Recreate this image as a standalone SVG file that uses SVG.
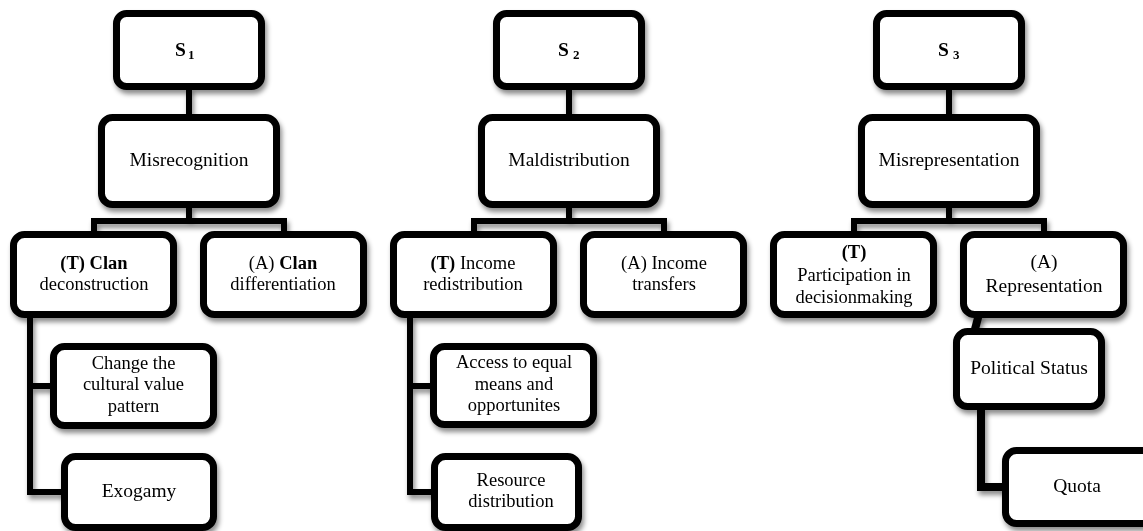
<svg xmlns="http://www.w3.org/2000/svg" width="1143" height="531" viewBox="0 0 1143 531">
  <defs>
    <filter id="shadow" x="-10%" y="-10%" width="130%" height="140%">
      <feDropShadow dx="2" dy="4" stdDeviation="2.5" flood-color="#000" flood-opacity="0.45"/>
    </filter>
    <style>
      .box { fill: #fff; stroke: #000; stroke-width: 7; }
      .ln { fill: none; stroke: #000; stroke-width: 6; stroke-linejoin: miter; stroke-linecap: butt; }
      .lnw { fill: none; stroke: #000; stroke-width: 8; stroke-linejoin: miter; stroke-linecap: butt; }
      text { font-family: "Liberation Serif", "Times New Roman", serif; font-size: 19.5px; fill: #000; text-anchor: middle; }
      text.ml { font-size: 18.5px; }
      .b { font-weight: bold; }
      .sub { font-size: 13px; font-weight: bold; }
    </style>
  </defs>
  <rect width="1143" height="531" fill="#fff"/>

  <!-- connectors -->
  <g id="connectors" filter="url(#shadow)">
    <!-- S1 tree -->
    <line class="ln" x1="189" y1="88" x2="189" y2="116"/>
    <polyline class="ln" points="94,233 94,221 284,221 284,233"/>
    <line class="ln" x1="189" y1="206" x2="189" y2="221"/>
    <polyline class="ln" points="30,316 30,386 52,386"/>
    <polyline class="ln" points="30,380 30,492 63,492"/>
    <!-- S2 tree -->
    <line class="ln" x1="569" y1="88" x2="569" y2="116"/>
    <polyline class="ln" points="474,233 474,221 664,221 664,233"/>
    <line class="ln" x1="569" y1="206" x2="569" y2="221"/>
    <polyline class="ln" points="410,316 410,386 432,386"/>
    <polyline class="ln" points="410,380 410,492 433,492"/>
    <!-- S3 tree -->
    <line class="ln" x1="949" y1="88" x2="949" y2="116"/>
    <polyline class="ln" points="854,233 854,221 1044,221 1044,233"/>
    <line class="ln" x1="949" y1="206" x2="949" y2="221"/>
    <line class="lnw" x1="979" y1="314" x2="974" y2="333"/>
    <polyline class="lnw" points="981,408 981,487 1004,487"/>
  </g>

  <!-- S1 branch: recognition -->
  <g id="s1" filter="url(#shadow)">
    <rect class="box" x="116.5" y="13.5" width="145" height="73" rx="10"/>
    <text x="175" y="55.5" style="text-anchor:start"><tspan class="b">S</tspan><tspan class="sub" x="188" y="58.5">1</tspan></text>
  </g>
  <g id="misrecognition" filter="url(#shadow)">
    <rect class="box" x="101.5" y="117.5" width="175" height="87" rx="11"/>
    <text x="189" y="166">Misrecognition</text>
  </g>
  <g id="clan-deconstruction" filter="url(#shadow)">
    <rect class="box" x="13.5" y="234.5" width="160" height="80" rx="11"/>
    <text class="ml"><tspan x="94" y="268.75" class="b">(T) Clan</tspan><tspan x="94" y="290.25">deconstruction</tspan></text>
  </g>
  <g id="clan-differentiation" filter="url(#shadow)">
    <rect class="box" x="203.5" y="234.5" width="160" height="80" rx="11"/>
    <text class="ml"><tspan x="283" y="268.75">(A) <tspan class="b">Clan</tspan></tspan><tspan x="283" y="290.25">differentiation</tspan></text>
  </g>
  <g id="cultural-value" filter="url(#shadow)">
    <rect class="box" x="53.5" y="346.5" width="160" height="79" rx="11"/>
    <text class="ml"><tspan x="133.5" y="368.5">Change the</tspan><tspan x="133.5" y="390">cultural value</tspan><tspan x="133.5" y="411.5">pattern</tspan></text>
  </g>
  <g id="exogamy" filter="url(#shadow)">
    <rect class="box" x="64.5" y="456.5" width="149" height="71" rx="11"/>
    <text x="139" y="497">Exogamy</text>
  </g>

  <!-- S2 branch: distribution -->
  <g id="s2" filter="url(#shadow)">
    <rect class="box" x="496.5" y="13.5" width="145" height="73" rx="10"/>
    <text x="558" y="55.5" style="text-anchor:start"><tspan class="b">S</tspan><tspan class="sub" x="573" y="58.5">2</tspan></text>
  </g>
  <g id="maldistribution" filter="url(#shadow)">
    <rect class="box" x="481.5" y="117.5" width="175" height="87" rx="11"/>
    <text x="569" y="166">Maldistribution</text>
  </g>
  <g id="income-redistribution" filter="url(#shadow)">
    <rect class="box" x="393.5" y="234.5" width="160" height="80" rx="11"/>
    <text class="ml"><tspan x="473" y="268.75"><tspan class="b">(T)</tspan> Income</tspan><tspan x="473" y="290.25">redistribution</tspan></text>
  </g>
  <g id="income-transfers" filter="url(#shadow)">
    <rect class="box" x="583.5" y="234.5" width="160" height="80" rx="11"/>
    <text class="ml"><tspan x="664" y="268.75">(A) Income</tspan><tspan x="664" y="290.25">transfers</tspan></text>
  </g>
  <g id="equal-access" filter="url(#shadow)">
    <rect class="box" x="433.5" y="346.5" width="160" height="78" rx="11"/>
    <text class="ml"><tspan x="514" y="368">Access to equal</tspan><tspan x="514" y="389.5">means and</tspan><tspan x="514" y="411">opportunites</tspan></text>
  </g>
  <g id="resource-distribution" filter="url(#shadow)">
    <rect class="box" x="434.5" y="456.5" width="144" height="71" rx="11"/>
    <text class="ml"><tspan x="511" y="485.75">Resource</tspan><tspan x="511" y="507.25">distribution</tspan></text>
  </g>

  <!-- S3 branch: representation -->
  <g id="s3" filter="url(#shadow)">
    <rect class="box" x="876.5" y="13.5" width="145" height="73" rx="10"/>
    <text x="938" y="55.5" style="text-anchor:start"><tspan class="b">S</tspan><tspan class="sub" x="953" y="58.5">3</tspan></text>
  </g>
  <g id="misrepresentation" filter="url(#shadow)">
    <rect class="box" x="861.5" y="117.5" width="175" height="87" rx="11"/>
    <text x="949" y="166">Misrepresentation</text>
  </g>
  <g id="participation" filter="url(#shadow)">
    <rect class="box" x="773.5" y="234.5" width="160" height="80" rx="11"/>
    <text class="ml"><tspan x="854" y="258" class="b">(T)</tspan><tspan x="854" y="281">Participation in</tspan><tspan x="854" y="302.5">decisionmaking</tspan></text>
  </g>
  <g id="representation" filter="url(#shadow)">
    <rect class="box" x="963.5" y="234.5" width="160" height="80" rx="11"/>
    <text><tspan x="1044" y="268">(A)</tspan><tspan x="1044" y="292">Representation</tspan></text>
  </g>
  <g id="political-status" filter="url(#shadow)">
    <rect class="box" x="956.5" y="331.5" width="145" height="75" rx="11"/>
    <text x="1029" y="374">Political Status</text>
  </g>
  <g id="quota" filter="url(#shadow)">
    <rect class="box" x="1005.5" y="450.5" width="150" height="73" rx="11"/>
    <text x="1077" y="492">Quota</text>
  </g>
</svg>
